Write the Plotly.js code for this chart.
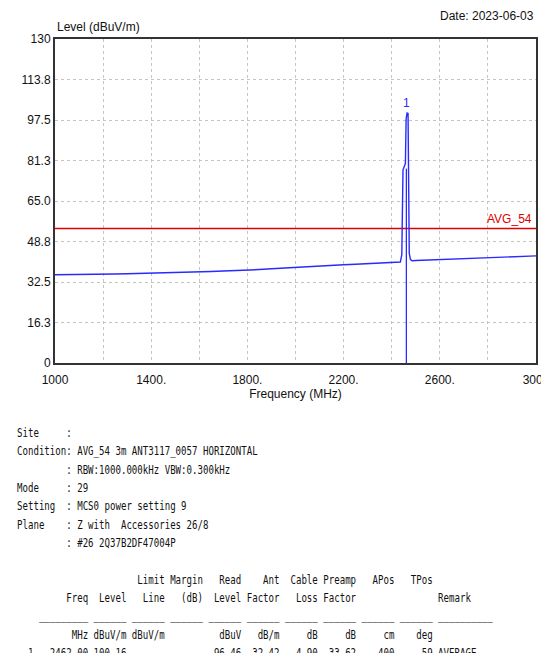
<!DOCTYPE html>
<html>
<head>
<meta charset="utf-8">
<script src="https://cdn.plot.ly/plotly-3.0.1.min.js"></script>
<style>
  html, body { margin: 0; padding: 0; background: #fff; overflow: hidden; width: 541px; height: 653px; }
  #chart { position: absolute; left: 0; top: 0; width: 541px; height: 653px; }
  #info {
    position: absolute; left: 17px; top: 424px; margin: 0;
    font-family: "DejaVu Sans Mono", "Liberation Mono", monospace;
    font-size: 12px; line-height: 18.35px; color: #111;
    white-space: pre; transform: scaleX(0.757); transform-origin: 0 0;
  }
</style>
</head>
<body>
<div id="chart"></div>
<pre id="info"></pre>
<script>
// ---- trace data ----
const freqMHz = [1000,1050,1100,1150,1200,1250,1300,1350,1400,1450,1500,1550,1600,1650,1700,1750,1800,1850,1900,1950,2000,2050,2100,2150,2200,2250,2300,2350,2400,2436,2442,2447,2451,2454,2457,2460,2464,2468,2470,2473,2478,2485,2500,2550,2600,2650,2700,2750,2800,2850,2900,2950,3000];
const levelDb = [35.4,35.4,35.5,35.5,35.6,35.7,35.8,35.9,36.0,36.1,36.2,36.4,36.5,36.7,36.9,37.0,37.2,37.5,37.8,38.1,38.4,38.6,38.8,39.1,39.4,39.6,39.8,40.0,40.2,40.5,43.5,77.5,78.5,79.0,80.0,98.0,100.3,100.1,70.0,44.0,41.5,41.0,41.1,41.3,41.6,41.8,42.0,42.2,42.4,42.6,42.8,42.9,43.0];
const limitFreq = [1000, 3000];
const limitLevel = [54, 54];
const limitName = "AVG_54";
const markerFreq = [2461, 2461];
const markerLevel = [0, 78];
const markerLabel = "1";
const markerLabelLevel = 104.5;

// ---- axis ticks ----
const yTickVals = [0,16.25,32.5,48.75,65,81.25,97.5,113.75,130];
const yTickText = ["0","16.3","32.5","48.8","65.0","81.3","97.5","113.8","130"];
const xTickVals = [1000,1200,1400,1600,1800,2000,2200,2400,2600,2800,3000];
const xTickText = ["1000","","1400.","","1800.","","2200.","","2600.","","3000"];

// ---- texts ----
const yTitle = "Level (dBuV/m)";
const xTitle = "Frequency (MHz)";
const dateText = "Date: 2023-06-03";

const infoLines = [
  "Site     :",
  "Condition: AVG_54 3m ANT3117_0057 HORIZONTAL",
  "         : RBW:1000.000kHz VBW:0.300kHz",
  "Mode     : 29",
  "Setting  : MCS0 power setting 9",
  "Plane    : Z with  Accessories 26/8",
  "         : #26 2Q37B2DF47004P",
  ""
];
const tableHead1 = ["", "", "Limit", "Margin", "Read", "Ant", "Cable", "Preamp", "APos", "TPos"];
const tableHead2 = ["Freq", "Level", "Line", "(dB)", "Level", "Factor", "Loss", "Factor", "", ""];
const tableUnits = ["MHz", "dBuV/m", "dBuV/m", "", "dBuV", "dB/m", "dB", "dB", "cm", "deg"];
const rowIndex = ["1"];
const rowValues = [["2462.00", "100.16", "", "", "96.46", "32.42", "4.90", "-33.62", "400", "59"]];
const rowRemark = ["AVERAGE"];

function tableLine(prefix, cells, remark) {
  let s = prefix.padStart(3, " ") + " " + cells[0].padStart(9, " ");
  for (let i = 1; i < cells.length; i++) s += " " + cells[i].padStart(6, " ");
  if (remark) s += " " + remark;
  return s;
}
const lines = infoLines.slice();
lines.push(tableLine("", tableHead1, ""));
lines.push(tableLine("", tableHead2, "Remark"));
lines.push("    " + "_".repeat(9) + (" " + "_".repeat(6)).repeat(9) + " " + "_".repeat(10));
lines.push(tableLine("", tableUnits, ""));
rowValues.forEach((r, i) => lines.push(tableLine(rowIndex[i], r, rowRemark[i])));
document.getElementById("info").textContent = lines.join("\n");

const fontFam = '"Liberation Sans Narrow", "Liberation Sans", Arial, sans-serif';

const traces = [
  { x: limitFreq, y: limitLevel, mode: "lines", line: { color: "#e00000", width: 1.5 }, hoverinfo: "skip" },
  { x: markerFreq, y: markerLevel, mode: "lines", line: { color: "#2a2aff", width: 1.3 }, hoverinfo: "skip" },
  { x: freqMHz, y: levelDb, mode: "lines", line: { color: "#2a2aff", width: 1.4 }, hoverinfo: "skip" }
];

const layout = {
  width: 541, height: 653,
  margin: { l: 55, r: 5, t: 39, b: 290 },
  paper_bgcolor: "#fff", plot_bgcolor: "#fff",
  showlegend: false,
  font: { family: fontFam, size: 12, color: "#111" },
  xaxis: {
    range: [1000, 3000], tickvals: xTickVals, ticktext: xTickText,
    showgrid: true, gridcolor: "#c4c4c4", griddash: "dot", gridwidth: 1,
    showline: true, linecolor: "#333", linewidth: 2, mirror: true,
    zeroline: false, ticks: "outside", ticklen: 5, tickcolor: "rgba(0,0,0,0)",
    ticklabeloverflow: "allow",
    tickfont: { family: fontFam, size: 12, color: "#111" },
    title: { text: xTitle, font: { family: fontFam, size: 12, color: "#111" }, standoff: 1 }
  },
  yaxis: {
    range: [0, 130], tickvals: yTickVals, ticktext: yTickText,
    showgrid: true, gridcolor: "#c4c4c4", griddash: "dot", gridwidth: 1,
    showline: true, linecolor: "#333", linewidth: 2, mirror: true,
    zeroline: false, ticks: "", tickfont: { family: fontFam, size: 12, color: "#111" }
  },
  annotations: [
    { xref: "paper", yref: "paper", x: 0, y: 1, xanchor: "left", yanchor: "bottom", yshift: 3,
      text: yTitle, showarrow: false, font: { family: fontFam, size: 12, color: "#111" } },
    { xref: "paper", yref: "paper", x: 1, y: 1, xanchor: "right", yanchor: "bottom", yshift: 14,
      text: dateText, showarrow: false, font: { family: fontFam, size: 12, color: "#111" } },
    { xref: "paper", yref: "y", x: 1, y: limitLevel[1], xanchor: "right", yanchor: "bottom", xshift: -2,
      text: limitName, showarrow: false, font: { family: fontFam, size: 12, color: "#e00000" } },
    { xref: "x", yref: "y", x: markerFreq[0], y: markerLabelLevel, xanchor: "center", yanchor: "middle",
      text: markerLabel, showarrow: false, font: { family: fontFam, size: 12, color: "#2a2aff" } }
  ]
};

Plotly.newPlot("chart", traces, layout, { staticPlot: true, displayModeBar: false });
</script>
</body>
</html>
